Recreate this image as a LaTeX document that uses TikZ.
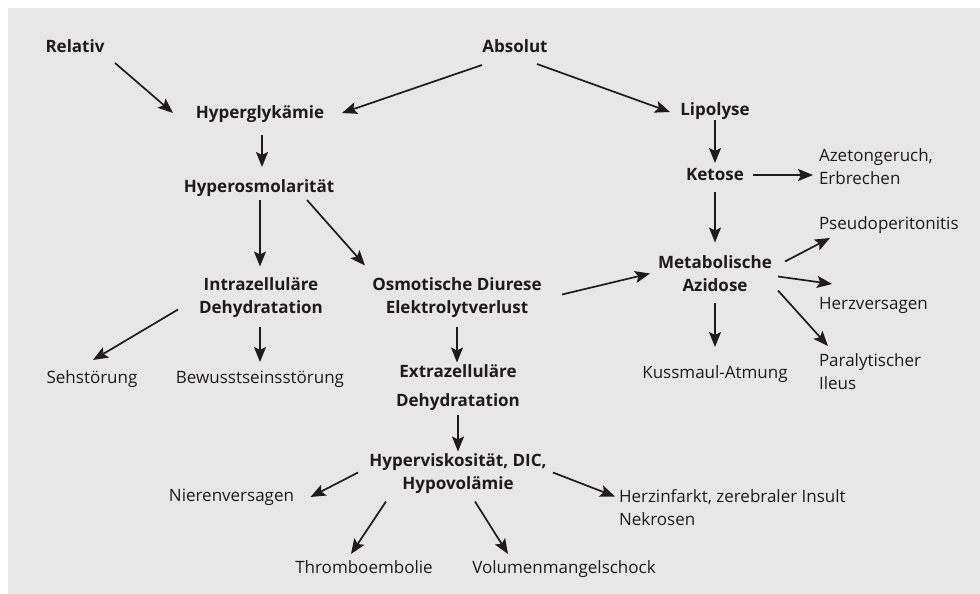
\documentclass[tikz,border=0pt]{standalone}
\usepackage{fontspec}
\setmainfont{Open Sans}
\usetikzlibrary{arrows.meta}
\definecolor{bg}{RGB}{231,231,231}
\definecolor{ink}{RGB}{30,27,28}
\begin{document}
\begin{tikzpicture}[x=1pt,y=-1pt,
  every node/.style={inner sep=0pt,outer sep=0pt,text=ink},
  one/.style={font=\fontsize{17}{23}\selectfont,text height=12.5pt,text depth=4pt},
  onebf/.style={one,font=\fontsize{17}{23}\selectfont\bfseries},
  two/.style={font=\fontsize{17}{23}\selectfont,align=center},
  twobf/.style={two,font=\fontsize{17}{23}\selectfont\bfseries},
  twol/.style={font=\fontsize{17}{23}\selectfont,align=left,anchor=west},
  arr/.style={draw=ink,line width=1.7pt,-{Stealth[length=15pt,width=12pt,inset=3pt]}}]
\useasboundingbox (0,0) rectangle (980,594);
\fill[bg] (8,8) rectangle (980,594);
% nodes
\node[onebf] (rel) at (75,48) {Relativ};
\node[onebf] (abs) at (515,48) {Absolut};
\node[onebf] (hyg) at (260,114) {Hyperglykämie};
\node[onebf] (lip) at (715,111) {Lipolyse};
\node[onebf] (hos) at (259,188) {Hyperosmolarität};
\node[onebf] (ket) at (715,176) {Ketose};
\node[twol] (aze) at (819,167) {Azetongeruch,\\Erbrechen};
\node[twobf] (met) at (715,274) {Metabolische\\Azidose};
\node[one,anchor=west] (pse) at (819,225) {Pseudoperitonitis};
\node[one,anchor=west] (hzv) at (819,305) {Herzversagen};
\node[twol] (par) at (819,372) {Paralytischer\\Ileus};
\node[one] (kus) at (715,374) {Kussmaul-Atmung};
\node[twobf] (intra) at (261,298) {Intrazelluläre\\Dehydratation};
\node[twobf] (osm) at (457,298) {Osmotische Diurese\\Elektrolytverlust};
\node[one] (seh) at (92,379) {Sehstörung};
\node[one] (bew) at (260,379) {Bewusstseinsstörung};
\node[font=\fontsize{17}{29}\selectfont\bfseries,align=center] (extra) at (458,388) {Extrazelluläre\\Dehydratation};
\node[twobf] (hypv) at (458,474) {Hyperviskosität, DIC,\\Hypovolämie};
\node[one] (nie) at (231.5,497) {Nierenversagen};
\node[twol] (hin) at (619,508) {Herzinfarkt, zerebraler Insult\\Nekrosen};
\node[one] (thr) at (364,569) {Thromboembolie};
\node[one] (vol) at (564,569) {Volumenmangelschock};
% connectors
\draw[arr] ([shift={(40,15)}]rel.center) -- ([shift={(-87,-1)}]hyg.center);
\draw[arr] ([shift={(-33,17)}]abs.center) -- ([shift={(82,-1)}]hyg.center);
\draw[arr] ([shift={(22,16)}]abs.center) -- ([shift={(-45,1)}]lip.center);
\draw[arr] ([shift={(2,21)}]hyg.center) -- ([shift={(3,-21)}]hos.center);
\draw[arr] ([shift={(0,9)}]lip.center) -- ([shift={(0,-13)}]ket.center);
\draw[arr] ([shift={(38,-1)}]ket.center) -- ([shift={(-6,8)}]aze.west);
\draw[arr] ([shift={(0,16)}]ket.center) -- ([shift={(0,-31.5)}]met.center);
\draw[arr] ([shift={(1,12)}]hos.center) -- ([shift={(-1,-31.5)}]intra.center);
\draw[arr] ([shift={(48,12)}]hos.center) -- ([shift={(-92,-32.5)}]osm.center);
\draw[arr] ([shift={(105,-3.5)}]osm.center) -- ([shift={(-65,-0.5)}]met.center);
\draw[arr] ([shift={(70,-12.5)}]met.center) -- ([shift={(11,13)}]pse.west);
\draw[arr] ([shift={(63,2.5)}]met.center) -- ([shift={(13,-21)}]hzv.west);
\draw[arr] ([shift={(63,16.5)}]met.center) -- ([shift={(9,-26)}]par.west);
\draw[arr] ([shift={(0,28.5)}]met.center) -- ([shift={(0,-27)}]kus.center);
\draw[arr] ([shift={(-83,11.5)}]intra.center) -- ([shift={(1,-19)}]seh.center);
\draw[arr] ([shift={(-1,28.5)}]intra.center) -- ([shift={(0,-17)}]bew.center);
\draw[arr] ([shift={(0,28.5)}]osm.center) -- ([shift={(-1,-25.5)}]extra.center);
\draw[arr] ([shift={(0,26.5)}]extra.center) -- ([shift={(0,-22.5)}]hypv.center);
\draw[arr] ([shift={(-100,-1.5)}]hypv.center) -- ([shift={(79,0)}]nie.center);
\draw[arr] ([shift={(95,-1.5)}]hypv.center) -- ([shift={(-4,-11.5)}]hin.west);
\draw[arr] ([shift={(-72,27.5)}]hypv.center) -- ([shift={(-13,-15)}]thr.center);
\draw[arr] ([shift={(17,27.5)}]hypv.center) -- ([shift={(-56,-15)}]vol.center);
\end{tikzpicture}
\end{document}
